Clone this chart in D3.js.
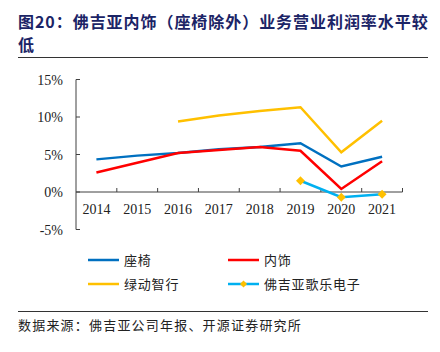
<!DOCTYPE html>
<html>
<head>
<meta charset="utf-8">
<script src="https://cdn.jsdelivr.net/npm/d3@7"></script>
<style>
  body { margin: 0; background: #fff; }
  svg { display: block; }
</style>
</head>
<body>
<div id="chart-area"></div>
<script>
let width = 440;
let height = 352;

// data (operating margin, %)
let years = ["2014", "2015", "2016", "2017", "2018", "2019", "2020", "2021"];
let seats = [4.35, 4.85, 5.2, 5.7, 6.0, 6.5, 3.4, 4.7];
let interiors = [2.6, 3.9, 5.2, 5.6, 6.0, 5.5, 0.4, 4.1];
let cleanMobility = [null, null, 9.4, 10.2, 10.8, 11.3, 5.3, 9.5];
let clarion = [null, null, null, null, null, 1.5, -0.7, -0.3];
let yTicks = [-5, 0, 5, 10, 15];

let series = [
	{ name: "座椅", values: seats, color: "#0070C0" },
	{ name: "内饰", values: interiors, color: "#FF0000" },
	{ name: "绿动智行", values: cleanMobility, color: "#FFC000" },
	{ name: "佛吉亚歌乐电子", values: clarion, color: "#00B0F0", marker: "#FFC000" }
];

let cjk = "'Noto Sans CJK SC', 'Noto Sans', sans-serif";
let serif = "'Liberation Serif', 'DejaVu Serif', serif";

let svg = d3.select("#chart-area")
	.append("svg")
	.attr("width", width)
	.attr("height", height);

// title
let title = svg.append("text")
	.attr("x", 18)
	.attr("y", 28)
	.style("font-family", cjk)
	.style("font-weight", "bold")
	.style("font-size", "16px")
	.style("letter-spacing", "0.95px")
	.attr("fill", "#1B2466");
title.append("tspan").attr("x", 18).attr("y", 28).text("图20：佛吉亚内饰（座椅除外）业务营业利润率水平较");
title.append("tspan").attr("x", 18).attr("y", 51).text("低");

svg.append("line")
	.attr("x1", 18).attr("x2", 428)
	.attr("y1", 57.5).attr("y2", 57.5)
	.attr("stroke", "#333").attr("stroke-width", 1);

// scales
let x = d3.scaleBand()
	.domain(years)
	.range([76, 402.5])
	.padding(0);

let y = d3.scaleLinear()
	.domain([-5, 15])
	.range([229.5, 79.5]);

// y axis
svg.append("line")
	.attr("x1", 76).attr("x2", 76)
	.attr("y1", y(15)).attr("y2", y(-5))
	.attr("stroke", "#404040");

svg.selectAll(".ytick")
	.data(yTicks)
	.enter()
	.append("line")
	.attr("class", "ytick")
	.attr("x1", 76).attr("x2", 80)
	.attr("y1", d => y(d)).attr("y2", d => y(d))
	.attr("stroke", "#404040");

svg.selectAll(".ylabel")
	.data(yTicks)
	.enter()
	.append("text")
	.attr("class", "ylabel")
	.attr("x", 63)
	.attr("y", d => y(d) + 5)
	.attr("text-anchor", "end")
	.style("font-family", serif)
	.style("font-size", "14px")
	.attr("fill", "#222")
	.text(d => d + "%");

// x axis at 0%
svg.append("line")
	.attr("x1", 76).attr("x2", x.range()[1])
	.attr("y1", y(0)).attr("y2", y(0))
	.attr("stroke", "#404040");

svg.selectAll(".xtick")
	.data(years.slice(1).concat(["end"]))
	.enter()
	.append("line")
	.attr("class", "xtick")
	.attr("x1", d => d === "end" ? x.range()[1] : x(d))
	.attr("x2", d => d === "end" ? x.range()[1] : x(d))
	.attr("y1", y(0)).attr("y2", y(0) - 4)
	.attr("stroke", "#404040");

svg.selectAll(".xlabel")
	.data(years)
	.enter()
	.append("text")
	.attr("class", "xlabel")
	.attr("x", d => x(d) + x.bandwidth() / 2)
	.attr("y", 214)
	.attr("text-anchor", "middle")
	.style("font-family", serif)
	.style("font-size", "14px")
	.attr("fill", "#222")
	.text(d => d);

// lines
let line = d3.line()
	.defined(d => d.v != null)
	.x(d => x(d.year) + x.bandwidth() / 2)
	.y(d => y(d.v));

series.forEach(s => {
	let pts = years.map((yr, i) => ({ year: yr, v: s.values[i] }));
	svg.append("path")
		.datum(pts)
		.attr("fill", "none")
		.attr("stroke", s.color)
		.attr("stroke-width", 2.5)
		.attr("d", line);

	if (s.marker) {
		svg.selectAll(null)
			.data(pts.filter(d => d.v != null))
			.enter()
			.append("path")
			.attr("d", d3.symbol(d3.symbolSquare, 40)())
			.attr("transform", d => `translate(${x(d.year) + x.bandwidth() / 2},${y(d.v)}) rotate(45)`)
			.attr("fill", s.marker);
	}
});

// legend
let legendPos = [[88, 260], [228, 260], [88, 284], [228, 284]];
series.forEach((s, i) => {
	let [lx, ly] = legendPos[i];
	let g = svg.append("g").attr("transform", `translate(${lx},${ly})`);
	g.append("line")
		.attr("x1", 0).attr("x2", 31)
		.attr("y1", 0).attr("y2", 0)
		.attr("stroke", s.color)
		.attr("stroke-width", 2.5);
	if (s.marker) {
		g.append("path")
			.attr("d", d3.symbol(d3.symbolSquare, 26)())
			.attr("transform", "translate(15.5,0) rotate(45)")
			.attr("fill", s.marker);
	}
	g.append("text")
		.attr("x", 36)
		.attr("y", 5)
		.style("font-family", cjk)
		.style("font-size", "13px")
		.style("letter-spacing", "0.8px")
		.attr("fill", "#222")
		.text(s.name);
});

// source
svg.append("line")
	.attr("x1", 18).attr("x2", 428)
	.attr("y1", 311.5).attr("y2", 311.5)
	.attr("stroke", "#333").attr("stroke-width", 1);

svg.append("text")
	.attr("x", 18)
	.attr("y", 330)
	.style("font-family", cjk)
	.style("font-size", "13px")
	.style("letter-spacing", "1.2px")
	.attr("fill", "#222")
	.text("数据来源：佛吉亚公司年报、开源证券研究所");
</script>
</body>
</html>
